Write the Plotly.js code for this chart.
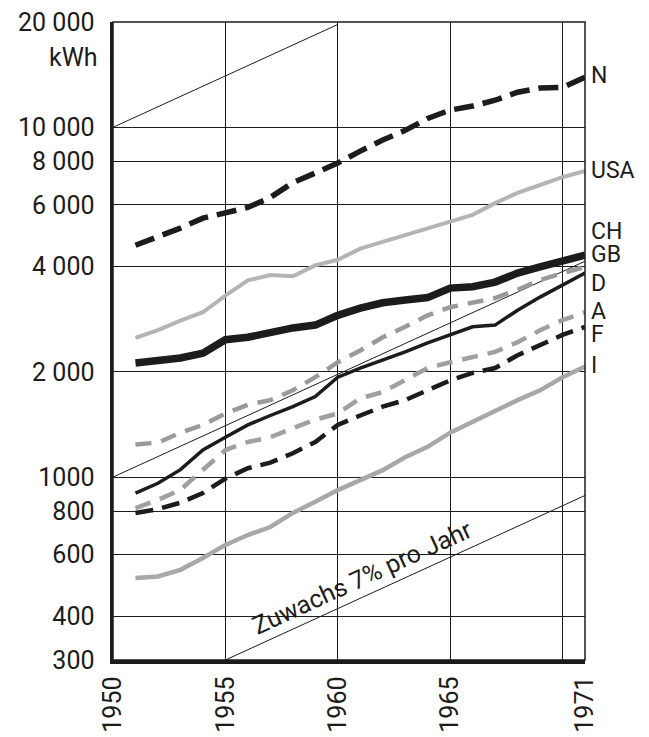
<!DOCTYPE html>
<html><head><meta charset="utf-8">
<script src="https://cdn.plot.ly/plotly-3.0.1.min.js"></script>
<style>html,body{margin:0;padding:0;background:#fff}#c{width:649px;height:737px}</style>
</head><body><div id="c"></div>
<script>
const years = [1951,1952,1953,1954,1955,1956,1957,1958,1959,1960,1961,1962,1963,1964,1965,1966,1967,1968,1969,1970,1971];
const N   = [4600,4850,5150,5500,5700,5900,6300,6950,7400,7900,8550,9200,9800,10600,11200,11500,11950,12600,12950,13000,13900];
const USA = [2500,2630,2800,2960,3300,3650,3780,3750,4030,4180,4500,4700,4920,5130,5360,5620,6070,6490,6840,7200,7500];
const CH  = [2120,2150,2190,2260,2470,2510,2600,2670,2720,2900,3040,3150,3210,3260,3470,3500,3610,3830,3990,4170,4310];
const GB  = [1240,1255,1340,1410,1520,1610,1660,1770,1930,2130,2300,2510,2690,2900,3060,3150,3250,3430,3660,3830,3990];
const D   = [900,960,1050,1195,1300,1410,1500,1590,1700,1930,2050,2160,2280,2420,2550,2690,2720,3000,3270,3540,3830];
const A   = [815,860,920,1050,1195,1260,1300,1380,1460,1520,1680,1750,1900,2050,2130,2200,2280,2430,2630,2810,2960];
const F   = [790,810,845,900,990,1060,1100,1170,1260,1410,1500,1590,1660,1770,1890,1985,2050,2230,2390,2550,2690];
const I   = [515,520,543,587,640,683,720,790,850,918,980,1047,1140,1220,1340,1440,1555,1660,1770,1930,2070];

// 7% growth reference lines (end points)
const ref1X = [1950,1960], ref1Y = [10000,19672];
const ref2X = [1950,1971], ref2Y = [1000,4141];
const ref3X = [1955,1971], ref3Y = [300,886];

const xTickVals = [1950,1955,1960,1965,1970,1971];
const xTickText = ['1950','1955','1960','1965','','1971'];
const yTickVals = [300,400,600,800,1000,2000,4000,6000,8000,10000,20000];
const yTickText = ['300','400','600','800','1000','2 000','4 000','6 000','8 000','10 000','20 000'];
const seriesLabels = ['N','USA','CH','GB','D','A','F','I'];
const labelPix = [75,170,231,255,283,311,335,366];

const FONT = 'Roboto, "DejaVu Sans", sans-serif';
const INK = '#1c1c1c';

function line(x,y,color,width,dash){
  return {x:x,y:y,type:'scatter',mode:'lines',line:{color:color,width:width,dash:dash||'solid',shape:'linear'},hoverinfo:'skip',showlegend:false};
}
const traces = [
  line(ref1X,ref1Y,INK,1),
  line(ref2X,ref2Y,INK,1),
  line(ref3X,ref3Y,INK,1),
  line(years,I,'#a8a8a8',4.5),
  line(years,USA,'#b4b4b4',4),
  line(years,A,'#a0a0a0',4.5,'16px,10px'),
  line(years,GB,'#9a9a9a',4.5,'16px,10px'),
  line(years,F,INK,4.5,'18px,9px'),
  line(years,D,INK,3.5),
  line(years,CH,INK,7.5),
  line(years,N,INK,5.5,'20px,9px')
];

const annotations = seriesLabels.map((t,i)=>({
  text:t, xref:'paper', yref:'paper', x:1, y:(660-labelPix[i])/638, xanchor:'left', yanchor:'middle',
  xshift:4, showarrow:false, font:{family:FONT,size:23,color:INK}
}));
annotations.push({text:'kWh', xref:'paper', yref:'paper', x:0, y:(660-58)/638, xanchor:'right', yanchor:'middle',
  xshift:-13, showarrow:false, font:{family:FONT,size:25,color:INK}});
annotations.push({text:'Zuwachs 7% pro Jahr', xref:'x', yref:'paper', x:1961.1, y:(660-577)/638,
  xanchor:'center', yanchor:'middle',
  textangle:-24.6, showarrow:false, font:{family:FONT,size:25,color:INK}});

const layout = {
  width:649, height:737,
  margin:{l:113,r:64,t:22,b:77},
  paper_bgcolor:'#fff', plot_bgcolor:'#fff',
  xaxis:{range:[1950,1971], tickvals:xTickVals, ticktext:xTickText, tickangle:-90,
    showgrid:true, gridcolor:INK, gridwidth:1, zeroline:false,
    showline:true, linecolor:INK, linewidth:3.5, ticks:'', ticklabelstandoff:3,
    tickfont:{family:FONT,size:25,color:INK}, fixedrange:true},
  yaxis:{type:'log', range:[Math.log10(300),Math.log10(20000)], tickvals:yTickVals, ticktext:yTickText,
    showgrid:true, gridcolor:INK, gridwidth:1, zeroline:false,
    showline:true, linecolor:INK, linewidth:3.5, ticks:'', ticklabelstandoff:10,
    tickfont:{family:FONT,size:25,color:INK}, fixedrange:true},
  shapes:[{type:'rect', xref:'paper', yref:'paper', x0:0, x1:1, y0:0, y1:1, line:{color:INK,width:1.5}, layer:'above'}],
  annotations:annotations,
  showlegend:false
};
Plotly.newPlot('c', traces, layout, {staticPlot:true, displayModeBar:false});
</script></body></html>
